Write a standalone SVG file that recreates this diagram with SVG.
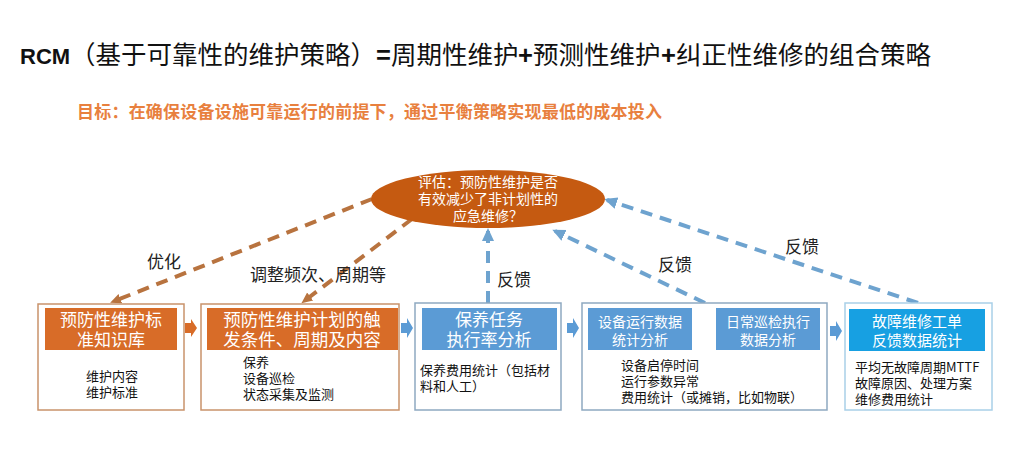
<svg xmlns="http://www.w3.org/2000/svg" width="1025" height="471" viewBox="0 0 1025 471">
<defs>
<style>
.hd{font-family:"Noto Sans CJK SC",sans-serif;fill:#fff;text-anchor:middle;}
.bd{font-family:"Noto Sans CJK SC",sans-serif;fill:#111;font-size:13px;}
.lb{font-family:"Noto Sans CJK SC",sans-serif;fill:#222;font-size:17px;}
.dashO{fill:none;stroke:#B8733F;stroke-width:4;stroke-dasharray:12 8;}
.dashB{fill:none;stroke:#6EA3CF;stroke-width:4;stroke-dasharray:12 8;}
.boxO{fill:#fff;stroke:#C9936B;stroke-width:1.5;}
.boxB{fill:#fff;stroke:#8EA9C1;stroke-width:1.5;}
.boxC{fill:#fff;stroke:#A9D0E8;stroke-width:1.5;}
.hO{fill:#D86C28;}
.hB{fill:#5B9BD5;}
.hC{fill:#17A0E2;}
.pl{font-family:"Liberation Sans",sans-serif;font-weight:bold;}
</style>
<marker id="aO" markerWidth="12" markerHeight="12" refX="9" refY="6" orient="auto" markerUnits="userSpaceOnUse">
<path d="M0,1 L11,6 L0,11 z" fill="#B8733F"/>
</marker>
<marker id="aB" markerWidth="14" markerHeight="14" refX="10" refY="7" orient="auto" markerUnits="userSpaceOnUse">
<path d="M0,1 L13,7 L0,13 z" fill="#6EA3CF"/>
</marker>
</defs>
<rect width="1025" height="471" fill="#fff"/>

<g id="title">
<text y="64" font-size="25.5" fill="#111" font-family="Noto Sans CJK SC,sans-serif">
<tspan x="20" class="pl" font-size="22">RCM</tspan><tspan x="70">（基于可靠性的维护策略）</tspan><tspan x="376" class="pl">=</tspan><tspan x="391">周期性维护</tspan><tspan x="518" class="pl">+</tspan><tspan x="533">预测性维护</tspan><tspan x="661" class="pl">+</tspan><tspan x="676">纠正性维修的组合策略</tspan>
</text>
<text x="77" y="118" font-size="17" font-weight="bold" fill="#E8803E" font-family="Noto Sans CJK SC,sans-serif" textLength="585">目标：在确保设备设施可靠运行的前提下，通过平衡策略实现最低的成本投入</text>
</g>

<g id="connectors">
<line class="dashO" x1="372" y1="199" x2="112" y2="302" marker-end="url(#aO)"/>
<line class="dashO" x1="412" y1="219" x2="303" y2="302" marker-end="url(#aO)"/>
<line class="dashB" x1="488" y1="303" x2="488" y2="231" marker-end="url(#aB)"/>
<line class="dashB" x1="705" y1="303" x2="555" y2="231" marker-end="url(#aB)"/>
<line class="dashB" x1="918" y1="303" x2="607" y2="200" marker-end="url(#aB)"/>
<path d="M185,323 h6 v-4 l6,9 l-6,9 v-4 h-6 z" fill="#D86C28"/>
<path d="M401,323 h6 v-5 l6,10 l-6,10 v-5 h-6 z" fill="#5B9BD5"/>
<path d="M567,323 h6 v-5 l6,10 l-6,10 v-5 h-6 z" fill="#5B9BD5"/>
<path d="M699,326 h6 v-5 l6,10 l-6,10 v-5 h-6 z" fill="#5B9BD5"/>
<path d="M830,326 h6 v-5 l6,10 l-6,10 v-5 h-6 z" fill="#5B9BD5"/>
<text class="lb" x="147" y="268">优化</text>
<text class="lb" x="250" y="281">调整频次、周期等</text>
<text class="lb" x="497" y="286">反馈</text>
<text class="lb" x="658" y="271">反馈</text>
<text class="lb" x="785" y="253">反馈</text>
</g>

<g id="eval">
<ellipse cx="488" cy="199" rx="117" ry="29" fill="#C55A11"/>
<text class="hd" font-size="14"><tspan x="488" y="187">评估：预防性维护是否</tspan><tspan x="488" dy="17">有效减少了非计划性的</tspan><tspan x="488" dy="17">应急维修？</tspan></text>
</g>

<g id="box1">
<rect class="boxO" x="38" y="304" width="146" height="106"/>
<rect class="hO" x="45" y="308" width="132" height="42"/>
<text class="hd" font-size="17"><tspan x="111" y="326">预防性维护标</tspan><tspan x="111" dy="20">准知识库</tspan></text>
<text class="bd" text-anchor="middle"><tspan x="112" y="381">维护内容</tspan><tspan x="112" dy="16">维护标准</tspan></text>
</g>

<g id="box2">
<rect class="boxO" x="201" y="304" width="198" height="106"/>
<rect class="hO" x="207" y="308" width="191" height="42"/>
<text class="hd" font-size="17.5"><tspan x="302" y="326">预防性维护计划的触</tspan><tspan x="302" dy="20">发条件、周期及内容</tspan></text>
<text class="bd"><tspan x="243" y="367">保养</tspan><tspan x="243" dy="16">设备巡检</tspan><tspan x="243" dy="16">状态采集及监测</tspan></text>
</g>

<g id="box3">
<rect class="boxB" x="415" y="303" width="146" height="107"/>
<rect class="hB" x="422" y="308" width="135" height="42"/>
<text class="hd" font-size="17"><tspan x="489" y="326">保养任务</tspan><tspan x="489" dy="20">执行率分析</tspan></text>
<text class="bd"><tspan x="420" y="375">保养费用统计（包括材</tspan><tspan x="420" dy="16">料和人工）</tspan></text>
</g>

<g id="box4">
<rect class="boxB" x="582" y="303" width="245" height="107"/>
<rect class="hB" x="588" y="308" width="104" height="42"/>
<text class="hd" font-size="14"><tspan x="640" y="327">设备运行数据</tspan><tspan x="640" dy="18">统计分析</tspan></text>
<rect class="hB" x="716" y="308" width="104" height="42"/>
<text class="hd" font-size="14"><tspan x="768" y="327">日常巡检执行</tspan><tspan x="768" dy="18">数据分析</tspan></text>
<text class="bd"><tspan x="621" y="370">设备启停时间</tspan><tspan x="621" dy="16">运行参数异常</tspan><tspan x="621" dy="16">费用统计（或摊销，比如物联）</tspan></text>
</g>

<g id="box5">
<rect class="boxC" x="845" y="303" width="147" height="107"/>
<rect class="hC" x="849" y="309" width="136" height="42"/>
<text class="hd" font-size="15"><tspan x="917" y="327">故障维修工单</tspan><tspan x="917" dy="19">反馈数据统计</tspan></text>
<text class="bd"><tspan x="855" y="372">平均无故障周期MTTF</tspan><tspan x="855" dy="16">故障原因、处理方案</tspan><tspan x="855" dy="16">维修费用统计</tspan></text>
</g>
</svg>
